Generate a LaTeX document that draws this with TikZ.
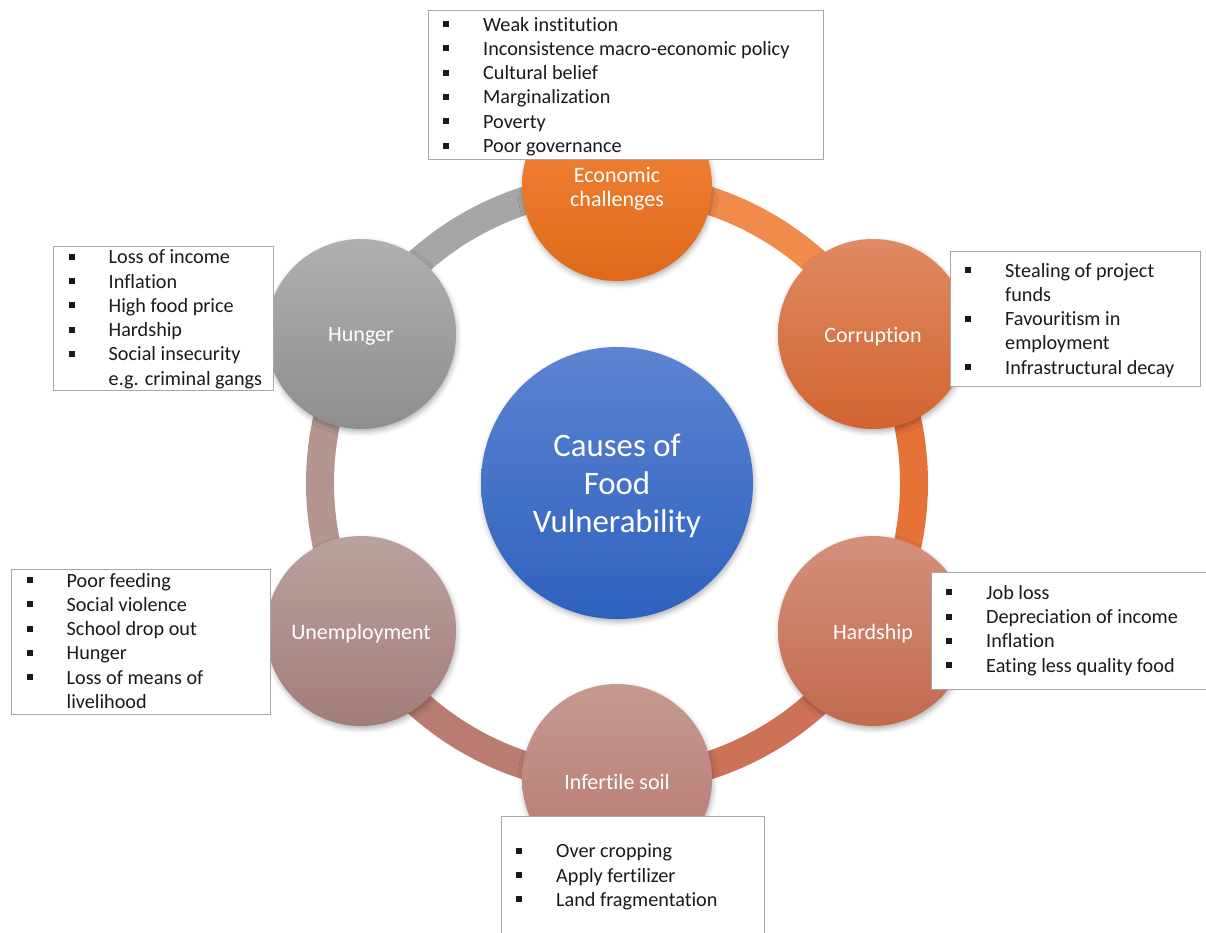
\documentclass[tikz,border=0pt]{standalone}
\usepackage{fontspec}
\setmainfont{Carlito}[Ligatures=NoCommon]

\usetikzlibrary{shadows.blur}

% palette
\definecolor{hubTop}{HTML}{5C84D2}
\definecolor{hubBot}{HTML}{2E61BE}
\definecolor{econTop}{HTML}{F5883A}
\definecolor{econBot}{HTML}{E0691B}
\definecolor{corrTop}{HTML}{E08A64}
\definecolor{corrBot}{HTML}{D2642F}
\definecolor{hardTop}{HTML}{D4907C}
\definecolor{hardBot}{HTML}{C26A4E}
\definecolor{infTop}{HTML}{C59A90}
\definecolor{infBot}{HTML}{B77770}
\definecolor{unempTop}{HTML}{BAA29F}
\definecolor{unempBot}{HTML}{A27D78}
\definecolor{hungTop}{HTML}{B0B0B0}
\definecolor{hungBot}{HTML}{8E8E8E}
\definecolor{segA}{HTML}{F08B4C}
\definecolor{segB}{HTML}{E57337}
\definecolor{segC}{HTML}{CD7257}
\definecolor{segD}{HTML}{BA7C70}
\definecolor{segE}{HTML}{B5968F}
\definecolor{segF}{HTML}{A6A6A6}
\definecolor{boxline}{HTML}{A6A6A6}
\definecolor{listink}{HTML}{1A1A1A}

% bulleted list helpers
\newcommand\sqbul{\makebox[40pt][l]{\rule[4pt]{6pt}{6pt}}}
\newcommand\bitem[1]{\sqbul#1}
\newcommand\contline[1]{\hspace*{40pt}#1}
\newcommand\itemlist[1]{\parbox[t]{420pt}{\raggedright\fontsize{20.2}{24.3}\selectfont #1}}

\pgfdeclarelayer{ringlayer}
\pgfsetlayers{ringlayer,main}

\begin{document}
\begin{tikzpicture}[x=1pt,y=1pt,
  cause/.style={circle, minimum size=190pt, inner sep=0pt,
    blur shadow={shadow xshift=1pt, shadow yshift=-3pt, shadow blur radius=5pt, shadow opacity=30}},
  causelabel/.style={text=white, align=center, inner sep=0pt, yshift=-2.5pt,
    font=\fontsize{22}{24}\selectfont},
  hubnode/.style={circle, minimum size=272pt, inner sep=0pt, top color=hubTop, bottom color=hubBot,
    blur shadow={shadow xshift=1pt, shadow yshift=-3pt, shadow blur radius=5pt, shadow opacity=30}},
  hublabel/.style={text=white, align=center, inner sep=0pt, yshift=-2.5pt,
    font=\fontsize{32.8}{38}\selectfont},
  ring/.style={line width=28pt},
  listbox/.style={draw=boxline, line width=1.3pt, fill=white, inner sep=0pt, anchor=north west},
  listtext/.style={anchor=base west, inner sep=0pt, text=listink}]

\useasboundingbox (0,0) rectangle (1206,-932);

% central hub
\node[hubnode, label={[hublabel]center:{Causes of\\Food\\Vulnerability}}] (hub) at (617,-483) {};

% the six causes
\node[cause, top color=econTop, bottom color=econBot,
  label={[causelabel]center:{Economic\\challenges}}] (econ) at (617,-186) {};
\node[cause, top color=corrTop, bottom color=corrBot,
  label={[causelabel]center:Corruption}] (corr) at (873,-334) {};
\node[cause, top color=hardTop, bottom color=hardBot,
  label={[causelabel]center:Hardship}] (hard) at (873,-631) {};
\node[cause, top color=infTop, bottom color=infBot,
  label={[causelabel]center:Infertile soil}] (infer) at (617,-779) {};
\node[cause, top color=unempTop, bottom color=unempBot,
  label={[causelabel]center:Unemployment}] (unemp) at (361,-631) {};
\node[cause, top color=hungTop, bottom color=hungBot,
  label={[causelabel]center:Hunger}] (hung) at (361,-334) {};

% ring joining the causes: arcs about the hub, from one cause centre to the next
\begin{pgfonlayer}{ringlayer}
  \draw[ring, segA] (hub.center) ++(90:297)  arc[start angle=90,  end angle=30,   radius=297];
  \draw[ring, segB] (hub.center) ++(30:297)  arc[start angle=30,  end angle=-30,  radius=297];
  \draw[ring, segC] (hub.center) ++(-30:297) arc[start angle=-30, end angle=-90,  radius=297];
  \draw[ring, segD] (hub.center) ++(-90:297) arc[start angle=-90, end angle=-150, radius=297];
  \draw[ring, segE] (hub.center) ++(210:297) arc[start angle=210, end angle=150,  radius=297];
  \draw[ring, segF] (hub.center) ++(150:297) arc[start angle=150, end angle=90,   radius=297];
\end{pgfonlayer}

% economic challenges list
\node[listbox, minimum width=395pt, minimum height=149pt] (econbox) at (428,-10) {};
\node[listtext] (econlist) at (443,-31) {\itemlist{%
  \bitem{Weak institution}\\
  \bitem{Inconsistence macro-economic policy}\\
  \bitem{Cultural belief}\\
  \bitem{Marginalization}\\
  \bitem{Poverty}\\
  \bitem{Poor governance}}};

% corruption list
\node[listbox, minimum width=250pt, minimum height=135pt] (corrbox) at (950,-251) {};
\node[listtext] (corrlist) at (965,-277) {\itemlist{%
  \bitem{Stealing of project}\\
  \contline{funds}\\
  \bitem{Favouritism in}\\
  \contline{employment}\\
  \bitem{Infrastructural decay}}};

% hardship list
\node[listbox, minimum width=275pt, minimum height=117pt] (hardbox) at (931,-572) {};
\node[listtext] (hardlist) at (946,-599.3) {\itemlist{%
  \bitem{Job loss}\\
  \bitem{Depreciation of income}\\
  \bitem{Inflation}\\
  \bitem{Eating less quality food}}};

% infertile soil list
\node[listbox, minimum width=263pt, minimum height=130pt] (infbox) at (501,-816) {};
\node[listtext] (inflist) at (516,-857.7) {\itemlist{%
  \bitem{Over cropping}\\
  \bitem{Apply fertilizer}\\
  \bitem{Land fragmentation}}};

% unemployment list
\node[listbox, minimum width=259pt, minimum height=145pt] (unempbox) at (11,-569) {};
\node[listtext] (unemplist) at (26.5,-587) {\itemlist{%
  \bitem{Poor feeding}\\
  \bitem{Social violence}\\
  \bitem{School drop out}\\
  \bitem{Hunger}\\
  \bitem{Loss of means of}\\
  \contline{livelihood}}};

% hunger list
\node[listbox, minimum width=220pt, minimum height=144pt] (hungbox) at (53,-246) {};
\node[listtext] (hunglist) at (68.5,-263.7) {\itemlist{%
  \bitem{Loss of income}\\
  \bitem{Inflation}\\
  \bitem{High food price}\\
  \bitem{Hardship}\\
  \bitem{Social insecurity}\\
  \contline{e.g. criminal gangs}}};

\end{tikzpicture}
\end{document}
